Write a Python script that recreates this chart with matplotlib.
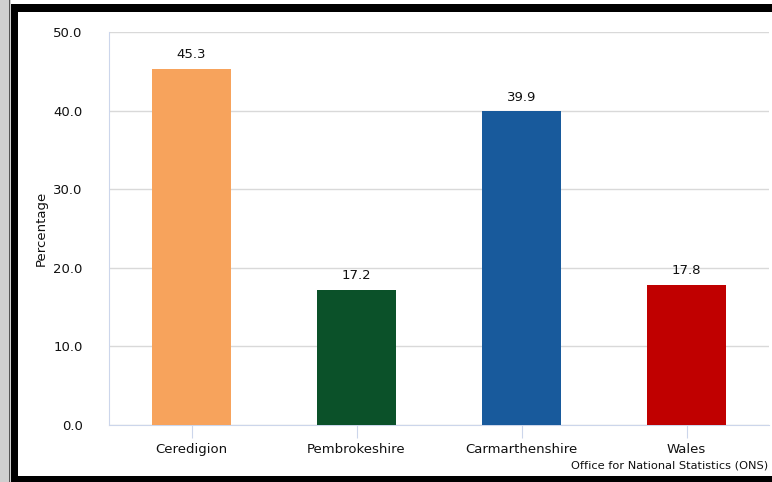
import matplotlib
matplotlib.use("Agg")
import matplotlib.pyplot as plt
from matplotlib.patches import Rectangle

# ==========================================
# DATA
# ==========================================
areas   = ["Ceredigion", "Pembrokeshire", "Carmarthenshire", "Wales"]
values  = [45.3, 17.2, 39.9, 17.8]
colours = ["#F7A35C", "#0B5129", "#185A9C", "#C00000"]
y_ticks = [0, 10, 20, 30, 40, 50]

AXIS_COL = "#ccd6eb"
GRID_COL = "#d9d9d9"
TEXT_COL = "#111111"

fig = plt.figure(figsize=(7.72, 4.82), dpi=100, facecolor="white")

# ── Frame around the chart (screenshot border) ──
W, H = 772, 482
def px_rect(x0, y0, x1, y1, col):
    fig.patches.append(Rectangle((x0 / W, 1 - y1 / H), (x1 - x0) / W, (y1 - y0) / H,
                                 transform=fig.transFigure, facecolor=col,
                                 edgecolor="none", zorder=0))
px_rect(0, 0, 11, H, "#cfcfcf")
px_rect(9, 0, 10, H, "#555555")
px_rect(11, 4, W, 12, "black")
px_rect(11, 4, 18, H, "black")
px_rect(11, 476, W, H, "black")

ax = fig.add_axes([109 / W, 1 - 425 / H, 660 / W, 393 / H])
ax.set_facecolor("none")

x = range(len(areas))
bars = ax.bar(x, values, width=0.48, color=colours, zorder=3)

for xi, v in zip(x, values):
    ax.text(xi, v + 1.0, f"{v:.1f}", ha="center", va="bottom",
            fontsize=9.5, color=TEXT_COL, zorder=4)

ax.set_xlim(-0.5, len(areas) - 0.5)
ax.set_ylim(0, 50)
ax.set_yticks(y_ticks)
ax.set_yticklabels([f"{t:.1f}" for t in y_ticks], fontsize=9.5, color=TEXT_COL)
ax.set_xticks(list(x))
ax.set_xticklabels(areas, fontsize=9.5, color=TEXT_COL)

ax.yaxis.grid(True, color=GRID_COL, linewidth=1, zorder=0)
ax.set_axisbelow(True)
for s in ["top", "right"]:
    ax.spines[s].set_visible(False)
ax.spines["left"].set_color(AXIS_COL)
ax.spines["bottom"].set_color(AXIS_COL)
ax.tick_params(axis="y", length=0, pad=19)
ax.tick_params(axis="x", length=9, color=AXIS_COL, pad=4)

ax.set_ylabel("Percentage", fontsize=9.5, color=TEXT_COL, labelpad=4)

fig.text(768 / W, 1 - 466 / H, "Office for National Statistics (ONS)",
         ha="right", va="center", fontsize=8.2, color=TEXT_COL)

fig.savefig("out.png", dpi=100, facecolor="white")
